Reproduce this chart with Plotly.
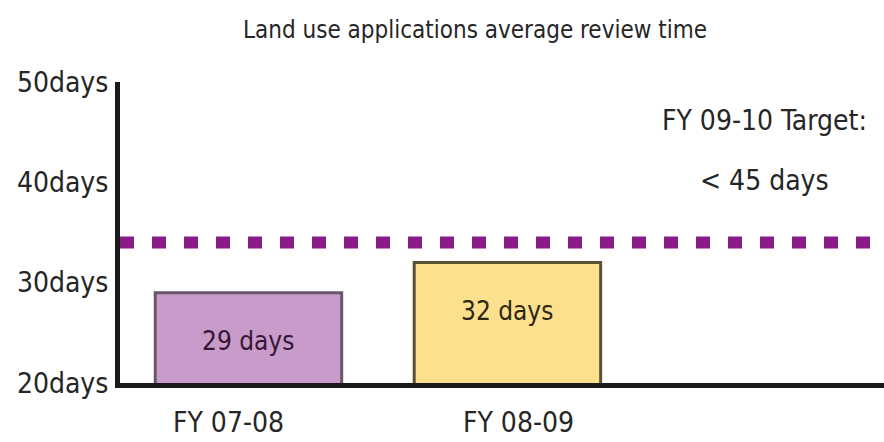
import plotly.graph_objects as go

# ---- data ----
categories = ["FY 07-08", "FY 08-09", "FY 09-10"]
review_days = [29, 32, None]
bar_labels = ["29 days", "32 days", ""]
target_line_value = 34
y_tick_values = [20, 30, 40, 50]
y_tick_labels = ["20days", "30days", "40days", "50days"]
title_text = "Land use applications average review time"
target_lines = ["FY 09-10 Target:", "< 45 days"]

FONT = "DejaVu Sans Condensed, Liberation Sans Narrow, Arial Narrow, sans-serif"
TXT = "#262626"
W, H = 884, 442

fig = go.Figure()
fig.add_trace(go.Bar(
    x=categories[:2],
    y=review_days[:2],
    width=0.72,
    marker=dict(color=["#c99bca", "#fde08e"],
                line=dict(color=["#6a566a", "#5a5236"], width=3)),
    hoverinfo="skip",
))

# value labels placed a fixed distance below each bar top
for cat, val, lab, col in zip(categories[:2], review_days[:2], bar_labels[:2], ["#351835", "#2e2812"]):
    fig.add_annotation(x=cat, y=val, text=lab, showarrow=False, yanchor="top", yshift=-31,
                       font=dict(family=FONT, size=26, color=col))

# category labels (slightly offset from bar centres, as in the original)
for cat, shift in zip(categories[:2], [-20, 11]):
    fig.add_annotation(x=cat, xref="x", y=0, yref="paper", text=cat, showarrow=False,
                       yanchor="top", yshift=-21, xshift=shift,
                       font=dict(family=FONT, size=28, color=TXT))

# target dotted line
fig.add_shape(type="line", xref="paper", x0=0, x1=1, yref="y", y0=target_line_value, y1=target_line_value,
              line=dict(color="#8a1c8a", width=12, dash="14px,18px"), layer="below")

for line_text, ypos in zip(target_lines, [46.2, 40.2]):
    fig.add_annotation(xref="paper", x=0.843, xanchor="center", yref="y", y=ypos, text=line_text,
                       showarrow=False, font=dict(family=FONT, size=28, color=TXT))

fig.update_layout(
    width=W, height=H,
    margin=dict(l=120, r=0, t=82, b=59),
    paper_bgcolor="white", plot_bgcolor="white",
    showlegend=False,
    title=dict(text=title_text, x=475 / W, xanchor="center", y=1 - 30 / H, yanchor="middle",
               font=dict(family=FONT, size=24, color=TXT)),
    font=dict(family=FONT, color=TXT),
)
fig.update_xaxes(type="category", categoryorder="array", categoryarray=categories,
                 range=[-0.496, 2.454], showgrid=False, zeroline=False, automargin=False,
                 showline=True, linecolor="#1a1a1a", linewidth=5,
                 ticks="", showticklabels=False)
fig.update_yaxes(range=[20, 50], showgrid=False, zeroline=False, automargin=False,
                 showline=True, linecolor="#1a1a1a", linewidth=5,
                 tickvals=y_tick_values, ticktext=y_tick_labels, ticks="",
                 tickfont=dict(family=FONT, size=28, color=TXT), ticklabelstandoff=1)

fig.write_html("out.html",
               config={"displayModeBar": False},
               post_script="document.body.style.margin='0';document.body.style.overflow='hidden';")
